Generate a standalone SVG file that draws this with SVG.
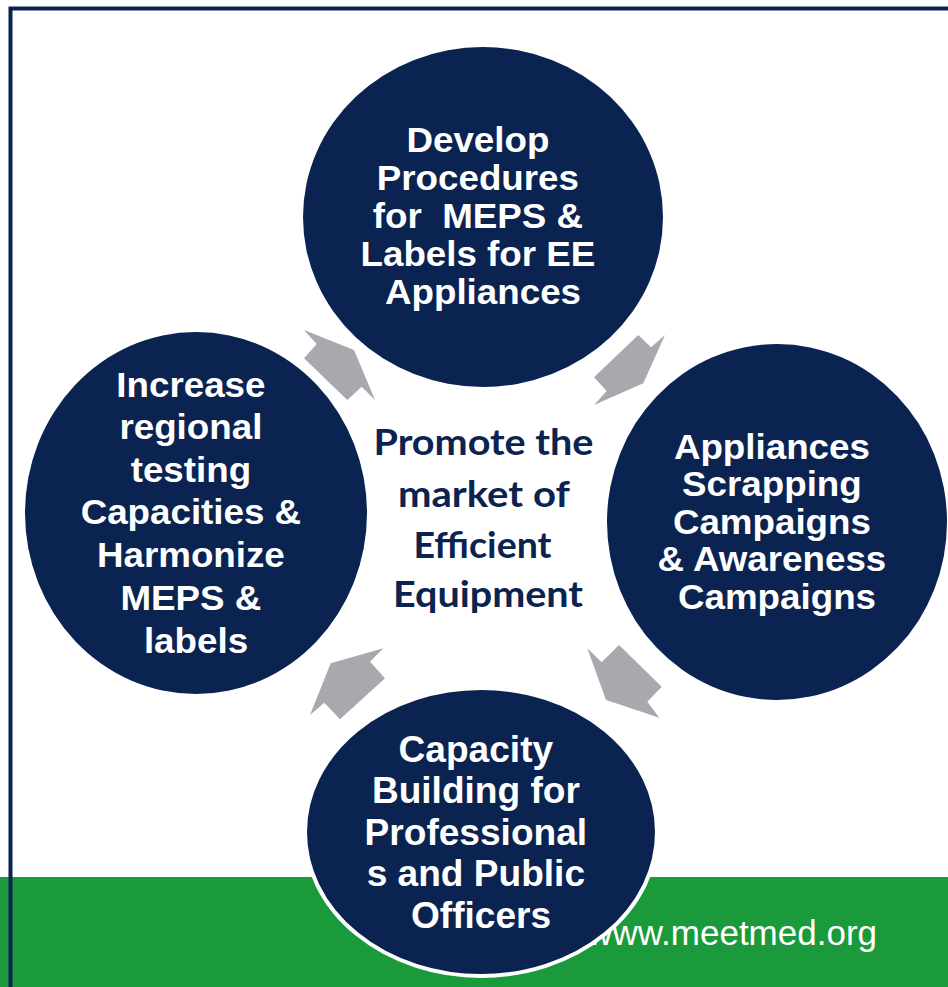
<svg xmlns="http://www.w3.org/2000/svg" width="948" height="987" viewBox="0 0 948 987">
<style>
.node{fill:#0a2350}
.lbl{font-family:"Liberation Sans",Arial,sans-serif;font-weight:bold;font-size:35px;fill:#ffffff;text-anchor:middle}
.ctr{font-family:Lato,"Open Sans",sans-serif;font-weight:bold;font-size:37px;fill:#0a2350;text-anchor:middle}
.arr{fill:#a8a9ae}
</style>
<rect x="0" y="0" width="948" height="987" fill="#ffffff"/>
<rect x="0" y="877" width="948" height="110" fill="#1b9a3b"/>
<path d="M10.5 987 V8.5 H948" fill="none" stroke="#0a2350" stroke-width="4"/>
<text x="877" y="945" font-family="Liberation Sans,Arial,sans-serif" font-size="35" fill="#ffffff" text-anchor="end">www.meetmed.org</text>

<g id="connectors">
<polygon class="arr" points="304,330 354,350 375,400 361.7,386.7 347.3,400 304,358.3 316.7,344"/>
<polygon class="arr" points="638.3,335 651,347.3 665,335 643.3,383.3 594,405 606.7,391 594,377.3"/>
<polygon class="arr" points="587.3,648.3 601.7,662.3 619,645 661.7,686.7 647.3,701.7 659.3,717.7 606,700"/>
<polygon class="arr" points="330.7,663.3 383.3,648.3 370,661.7 385,678.3 340,719.3 324.3,702.7 310,715"/>
</g>

<g id="node-top">
<ellipse class="node" cx="483" cy="217" rx="180" ry="170"/>
<text class="lbl" transform="translate(483 0) scale(1.05 1)">
<tspan x="0" y="152">Develop</tspan>
<tspan x="0" y="190">Procedures</tspan>
<tspan x="0" y="228">for&#160; MEPS &amp;</tspan>
<tspan x="0" y="266">Labels for EE</tspan>
<tspan x="0" y="304">Appliances</tspan>
</text>
</g>

<g id="node-right">
<ellipse class="node" cx="777" cy="522" rx="170" ry="178"/>
<text class="lbl" transform="translate(777 0) scale(1.05 1)">
<tspan x="0" y="459">Appliances</tspan>
<tspan x="0" y="496.5">Scrapping</tspan>
<tspan x="0" y="534">Campaigns</tspan>
<tspan x="0" y="571.5">&amp; Awareness</tspan>
<tspan x="0" y="609">Campaigns</tspan>
</text>
</g>

<g id="node-bottom">
<ellipse class="node" cx="481" cy="832" rx="176" ry="144" stroke="#ffffff" stroke-width="4"/>
<text class="lbl" style="font-size:36px" transform="translate(481 0) scale(1.03 1)">
<tspan x="0" y="762">Capacity</tspan>
<tspan x="0" y="803.5">Building for</tspan>
<tspan x="0" y="845">Professional</tspan>
<tspan x="0" y="886.5">s and Public</tspan>
<tspan x="0" y="928">Officers</tspan>
</text>
</g>

<g id="node-left">
<ellipse class="node" cx="196" cy="513" rx="171" ry="181"/>
<text class="lbl" transform="translate(196 0) scale(1.05 1)">
<tspan x="0" y="397">Increase</tspan>
<tspan x="0" y="439">regional</tspan>
<tspan x="0" y="482">testing</tspan>
<tspan x="0" y="524">Capacities &amp;</tspan>
<tspan x="0" y="567">Harmonize</tspan>
<tspan x="0" y="610">MEPS &amp;</tspan>
<tspan x="0" y="653">labels</tspan>
</text>
</g>

<g id="node-center">
<text class="ctr">
<tspan x="488" y="455" textLength="220" lengthAdjust="spacingAndGlyphs">Promote the</tspan>
<tspan x="488" y="507" textLength="171" lengthAdjust="spacingAndGlyphs">market of</tspan>
<tspan x="487" y="558" textLength="138" lengthAdjust="spacingAndGlyphs">Efficient</tspan>
<tspan x="488" y="607" textLength="190" lengthAdjust="spacingAndGlyphs">Equipment</tspan>
</text>
</g>
</svg>
